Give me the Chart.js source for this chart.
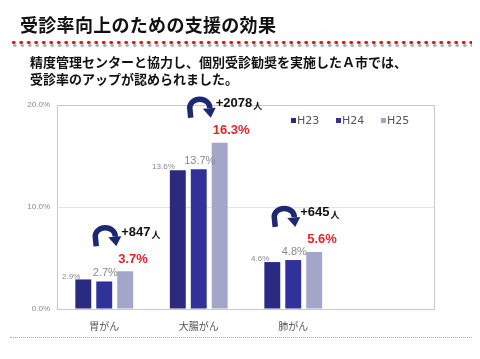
<!DOCTYPE html>
<html lang="ja">
<head>
<meta charset="utf-8">
<script src="https://cdn.jsdelivr.net/npm/chart.js@4/dist/chart.umd.min.js"></script>
<style>
  html, body { margin: 0; padding: 0; background: #fff; }
  body { width: 480px; height: 359px; position: relative; overflow: hidden;
         font-family: "Noto Sans CJK JP", "Noto Sans", sans-serif; }
  #wrap { position: absolute; left: 0; top: 0; width: 480px; height: 359px; }
  .title { position: absolute; left: 20px; top: 12px; font-size: 18px; font-weight: bold;
           color: #111; letter-spacing: 0.3px; line-height: 24px; white-space: nowrap; }
  .dots { position: absolute; left: 10px; top: 40px; width: 462px; height: 8px;
          background:
            radial-gradient(circle, #d9141c 1.5px, transparent 2px) 0 0 / 7.5px 5px repeat-x,
            radial-gradient(circle, #b0b0b0 1.4px, transparent 1.9px) 1px 3px / 7.5px 5px repeat-x; }
  .sub { position: absolute; left: 30px; top: 53px; font-size: 13px; font-weight: bold;
         color: #111; line-height: 17px; white-space: nowrap; }
  .bottomline { position: absolute; left: 10px; top: 337px; width: 462px;
                border-top: 1px dotted #b0b0b0; }
</style>
</head>
<body>
<div id="wrap"><canvas id="chart"></canvas></div>
<div class="title">受診率向上のための支援の効果</div>
<div class="dots"></div>
<div class="sub">精度管理センターと協力し、個別受診勧奨を実施したＡ市では、<br>受診率のアップが認められました。</div>
<div class="bottomline"></div>
<script>
// データ
const categories = ['胃がん', '大腸がん', '肺がん', ''];
const seriesNames = ['H23', 'H24', 'H25'];
const h23 = [2.9, 13.6, 4.6, null];
const h24 = [2.7, 13.7, 4.8, null];
const h25 = [3.7, 16.3, 5.6, null];
const increases = ['+847', '+2078', '+645'];
const yTicks = [0, 10, 20];

const colors = ['#2a2a80', '#30329a', '#a4a6c9'];

// 値ラベル・矢印・凡例・枠を描くプラグイン
const decorPlugin = {
    id: 'decor',
    afterDatasetsDraw(chart) {
        const ctx = chart.ctx;
        const area = chart.chartArea;
        const m0 = chart.getDatasetMeta(0);
        const m1 = chart.getDatasetMeta(1);
        const m2 = chart.getDatasetMeta(2);
        const shift = [0, 0, -10];

        ctx.save();
        // 枠
        ctx.strokeStyle = '#c9c9c9';
        ctx.lineWidth = 1;
        ctx.strokeRect(area.left + 0.5, area.top + 0.5, area.right - area.left - 1, area.bottom - area.top);

        for (let i = 0; i < 3; i++) {
            const b0 = m0.data[i], b1 = m1.data[i], b2 = m2.data[i];

            // H23
            ctx.fillStyle = '#8a8a8a';
            ctx.font = '8px "Liberation Sans", sans-serif';
            ctx.textAlign = 'right';
            ctx.textBaseline = 'middle';
            ctx.fillText(h23[i].toFixed(1) + '%', b0.x - 3, b0.y - 3);

            // H24
            ctx.font = '11px "Liberation Sans", sans-serif';
            ctx.textAlign = 'center';
            ctx.fillText(h24[i].toFixed(1) + '%', b1.x + 1, b1.y - 8);

            // H25
            const labelY = b2.y - 12;
            ctx.fillStyle = '#e5242b';
            ctx.font = 'bold 13px "Liberation Sans", sans-serif';
            ctx.textAlign = 'left';
            ctx.fillText(h25[i].toFixed(1) + '%', b2.x - 7, labelY);

            // 矢印
            const ax = b1.x - 12 + shift[i];
            const ay = labelY - 13 - 21;
            drawArrow(ctx, ax, ay);

            // 増加人数
            ctx.fillStyle = '#111';
            ctx.font = 'bold 13px "Liberation Sans", sans-serif';
            ctx.textAlign = 'left';
            const tx = ax + 29;
            const ty = ay + 7;
            ctx.fillText(increases[i], tx, ty);
            const w = ctx.measureText(increases[i]).width;
            ctx.font = 'bold 9px "Noto Sans CJK JP", sans-serif';
            ctx.fillText('人', tx + w + 1, ty + 2);
        }

        // 凡例
        const lx = [291, 336, 381];
        ctx.font = '11px "DejaVu Sans", sans-serif';
        ctx.textBaseline = 'middle';
        ctx.textAlign = 'left';
        seriesNames.forEach((name, k) => {
            ctx.fillStyle = colors[k];
            ctx.fillRect(lx[k], area.top + 13, 5, 5);
            ctx.fillStyle = '#555';
            ctx.fillText(name, lx[k] + 6, area.top + 16);
        });
        ctx.restore();
    }
};

function drawArrow(ctx, x, y) {
    const cx = x + 13, cy = y + 11, rx = 10, ry = 8.5;
    ctx.save();
    ctx.strokeStyle = '#1d2870';
    ctx.fillStyle = '#1d2870';
    ctx.lineWidth = 5.5;
    ctx.lineCap = 'butt';
    ctx.beginPath();
    ctx.moveTo(cx - rx + 1, cy + 10);
    ctx.lineTo(cx - rx, cy);
    ctx.ellipse(cx, cy, rx, ry, 0, Math.PI, 0.02 * Math.PI, false);
    ctx.stroke();
    ctx.beginPath();
    ctx.moveTo(cx + rx - 7, cy + 1);
    ctx.lineTo(cx + rx + 6, cy);
    ctx.lineTo(cx + rx + 1, y + 21);
    ctx.closePath();
    ctx.fill();
    ctx.restore();
}

const chart = new Chart(document.getElementById('chart').getContext('2d'), {
    type: 'bar',
    data: {
        labels: categories,
        datasets: seriesNames.map((name, k) => ({
            label: name,
            data: [h23, h24, h25][k],
            backgroundColor: colors[k],
            categoryPercentage: 0.665,
            barPercentage: 0.76
        }))
    },
    options: {
        responsive: true,
        maintainAspectRatio: false,
        animation: false,
        layout: { padding: { top: 105, right: 45, left: 0, bottom: 0 } },
        plugins: {
            legend: { display: false },
            tooltip: { enabled: false }
        },
        scales: {
            x: {
                grid: { display: false, drawTicks: false },
                border: { display: false },
                ticks: {
                    color: '#555',
                    padding: 11,
                    font: { size: 10, family: '"Noto Sans CJK JP", sans-serif' }
                },
                afterFit(scale) { scale.height = 50; }
            },
            y: {
                min: 0,
                max: 20,
                afterBuildTicks(scale) { scale.ticks = yTicks.map(v => ({ value: v })); },
                grid: { color: '#e3e3e3', drawTicks: false },
                border: { display: false },
                ticks: {
                    color: '#8a8a8a',
                    padding: 7,
                    font: { size: 8, family: '"Liberation Sans", sans-serif' },
                    callback: v => v.toFixed(1) + '%'
                },
                afterFit(scale) { scale.width = 57; }
            }
        }
    },
    plugins: [decorPlugin]
});
</script>
</body>
</html>
